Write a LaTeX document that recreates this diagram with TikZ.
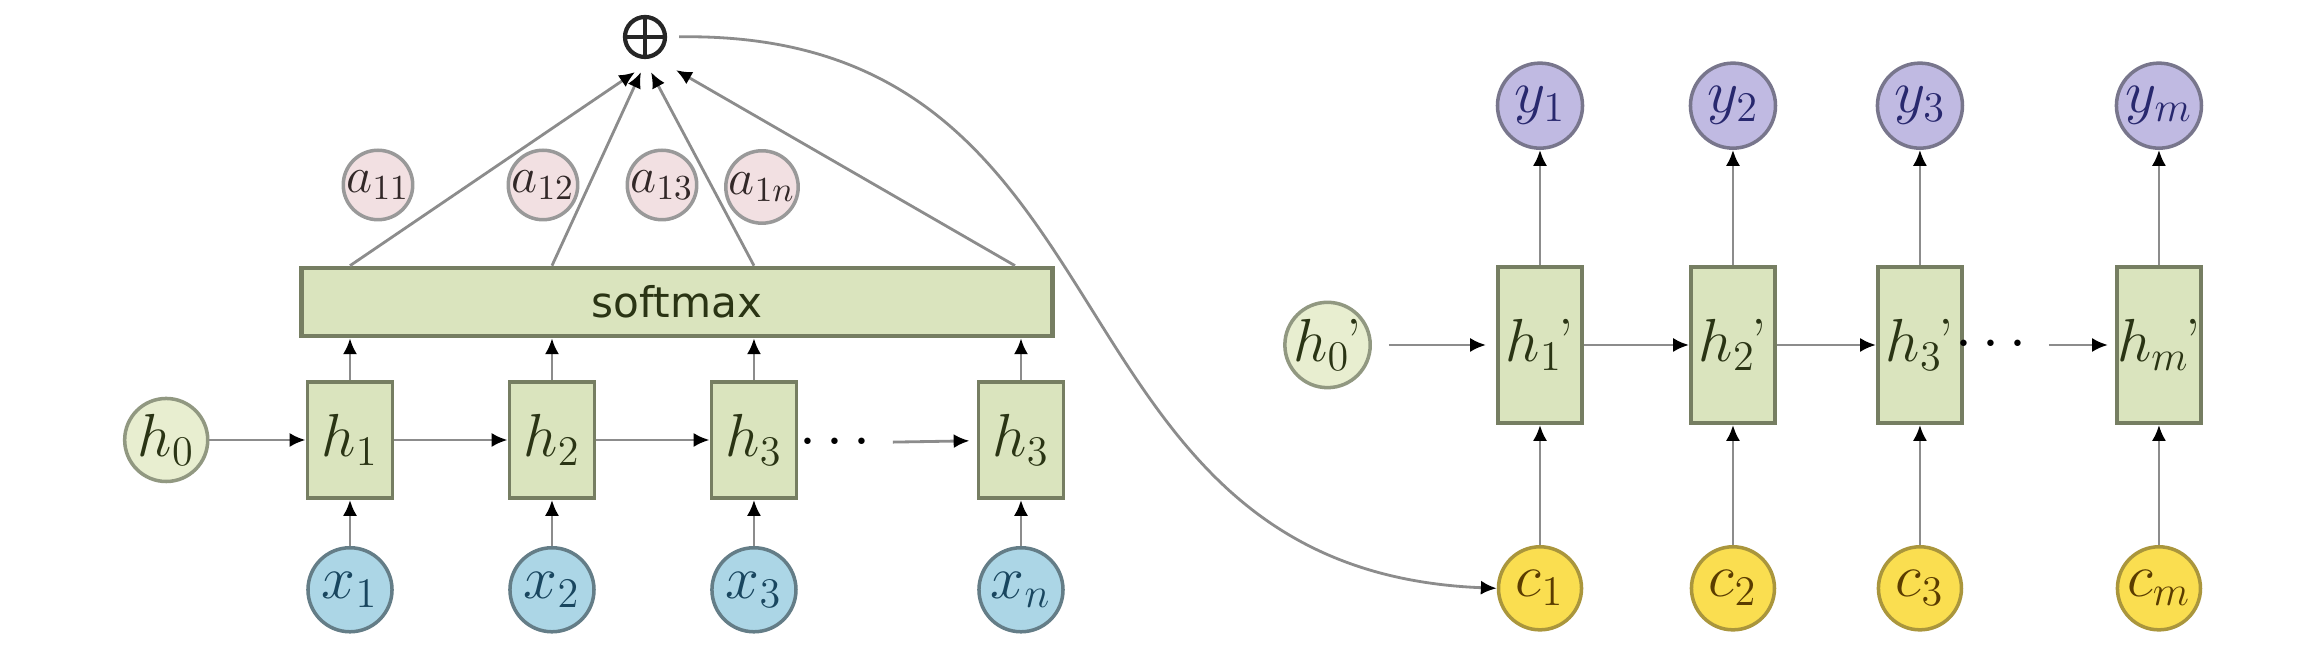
\documentclass[tikz,border=0pt]{standalone}
\usepackage{amsmath,amssymb}
\usepackage{fontspec}
\newfontfamily\labelsans{DejaVu Sans}
\usepackage{xcolor}
\usepackage{tikz}
\usetikzlibrary{shapes,arrows.meta,positioning,calc}

\definecolor{cellfill}{RGB}{218,228,190}
\definecolor{celldraw}{RGB}{118,126,98}
\definecolor{initfill}{RGB}{232,238,208}
\definecolor{attfill}{RGB}{242,224,226}
\definecolor{infill}{RGB}{172,214,230}
\definecolor{indraw}{RGB}{100,125,135}
\definecolor{ctxfill}{RGB}{250,222,80}
\definecolor{ctxdraw}{RGB}{170,150,60}
\definecolor{outfill}{RGB}{192,186,226}
\definecolor{outdraw}{RGB}{120,118,140}
\definecolor{htext}{RGB}{42,52,20}
\definecolor{xtext}{RGB}{25,70,95}
\definecolor{ctext}{RGB}{90,60,0}
\definecolor{ytext}{RGB}{40,40,110}
\definecolor{atext}{RGB}{50,40,40}

\begin{document}
\begin{tikzpicture}[
  x=0.01cm, y=-0.01cm,
  cell/.style={rectangle, draw=celldraw, fill=cellfill, line width=1.1pt, minimum width=0.85cm, minimum height=1.16cm, inner sep=0pt, font=\LARGE, text=htext},
  deccell/.style={cell, minimum width=0.84cm, minimum height=1.56cm},
  softbox/.style={rectangle, draw=celldraw, fill=cellfill, line width=1.3pt, minimum width=7.5cm, minimum height=0.68cm, font=\labelsans\fontsize{12}{14}\selectfont, text=htext},
  initnode/.style={circle, draw=celldraw!80, fill=initfill, line width=1pt, minimum size=0.83cm, inner sep=0pt, font=\LARGE, text=htext},
  xnode/.style={initnode, draw=indraw, fill=infill, text=xtext, minimum size=0.84cm},
  cnode/.style={initnode, draw=ctxdraw, fill=ctxfill, text=ctext},
  ynode/.style={initnode, draw=outdraw, fill=outfill, text=ytext, minimum size=0.85cm},
  anode/.style={initnode, draw=black!40, fill=attfill, text=atext, minimum size=0.68cm, font=\Large},
  plusnode/.style={circle, draw=black!85, line width=1.2pt, minimum size=0.40cm, inner sep=0pt},
  link/.style={line width=0.8pt, draw=black!45},
  arrow/.style={link, -{Latex[length=4.5pt, width=4pt, color=black]}}
]
\useasboundingbox[fill=white] (0,0) rectangle (2308,668);

% Encoder
\node[cell] (h1) at (350,440) {$h_1$};
\node[cell, right=1.13cm of h1] (h2) {$h_2$};
\node[cell, right=1.13cm of h2] (h3) {$h_3$};
\node[cell, right=1.78cm of h3] (hn) {$h_3$};
\node[initnode, left=0.96cm of h1] (h0) {$h_0$};
\node[font=\LARGE] (edots) at (840,443) {$\cdots$};

\node[xnode, below=0.46cm of h1] (x1) {$x_1$};
\node[xnode, below=0.46cm of h2] (x2) {$x_2$};
\node[xnode, below=0.46cm of h3] (x3) {$x_3$};
\node[xnode, below=0.46cm of hn] (xn) {$x_n$};

\draw[arrow] (h0) -- (h1);
\draw[arrow] (h1) -- (h2);
\draw[arrow] (h2) -- (h3);
\draw[arrow, shorten >=2pt] (edots) -- (hn);
\foreach \i in {1,2,3,n} {
  \draw[arrow] (x\i) -- (h\i);
}

% Softmax and attention weights
\node[softbox] (softmax) at (677,302) {softmax};
\foreach \i in {1,2,3,n} {
  \draw[arrow] (h\i) -- (h\i |- softmax.south);
}

\node[plusnode] (plus) at (645,37) {};
\draw[black!85, line width=1.2pt] (plus.north) -- (plus.south) (plus.west) -- (plus.east);

\node[anode] (a11) at (378,185) {$a_{11}$};
\node[anode] (a12) at (543,185) {$a_{12}$};
\node[anode] (a13) at (662,185) {$a_{13}$};
\node[anode] (a1n) at (762,187) {$a_{1n}$};

\draw[arrow] (softmax.north -| h1) -- ($(plus.south)+(-10,13)$);
\draw[arrow] (softmax.north -| h2) -- ($(plus.south)+(-4,13)$);
\draw[arrow] (softmax.north -| h3) -- ($(plus.south)+(6,13)$);
\draw[arrow] ($(softmax.north -| hn)+(-6,0)$) -- ($(plus.south)+(31,11)$);

% Decoder
\node[deccell] (d1) at (1540,345) {$h_1$\kern-1pt'};
\node[deccell, right=1.05cm of d1] (d2) {$h_2$\kern-1pt'};
\node[deccell, right=0.99cm of d2] (d3) {$h_3$\kern-1pt'};
\node[deccell, right=1.51cm of d3] (dm) {$h_m$\kern-1pt'};
\node[initnode, left=1.24cm of d1] (d0) {$h_0$\kern-1pt'};
\node[font=\LARGE] (ddots) at (1996,345) {$\cdots$};

\foreach \i in {1,2,3,m} {
  \node[ynode, above=1.15cm of d\i] (y\i) {$y_\i$};
  \node[cnode, below=1.20cm of d\i] (c\i) {$c_\i$};
  \draw[arrow] (d\i) -- (y\i);
  \draw[arrow] (c\i) -- (d\i);
}

\draw[arrow, shorten <=0.17cm, shorten >=0.1cm] (d0) -- (d1);
\draw[arrow] (d1) -- (d2);
\draw[arrow] (d2) -- (d3);
\draw[arrow, shorten >=2pt] (ddots) -- (dm);

% context to decoder
\draw[arrow, shorten <=0.12cm] (plus.east) .. controls (1150,30) and (1030,570) .. (c1.west);

\end{tikzpicture}
\end{document}
